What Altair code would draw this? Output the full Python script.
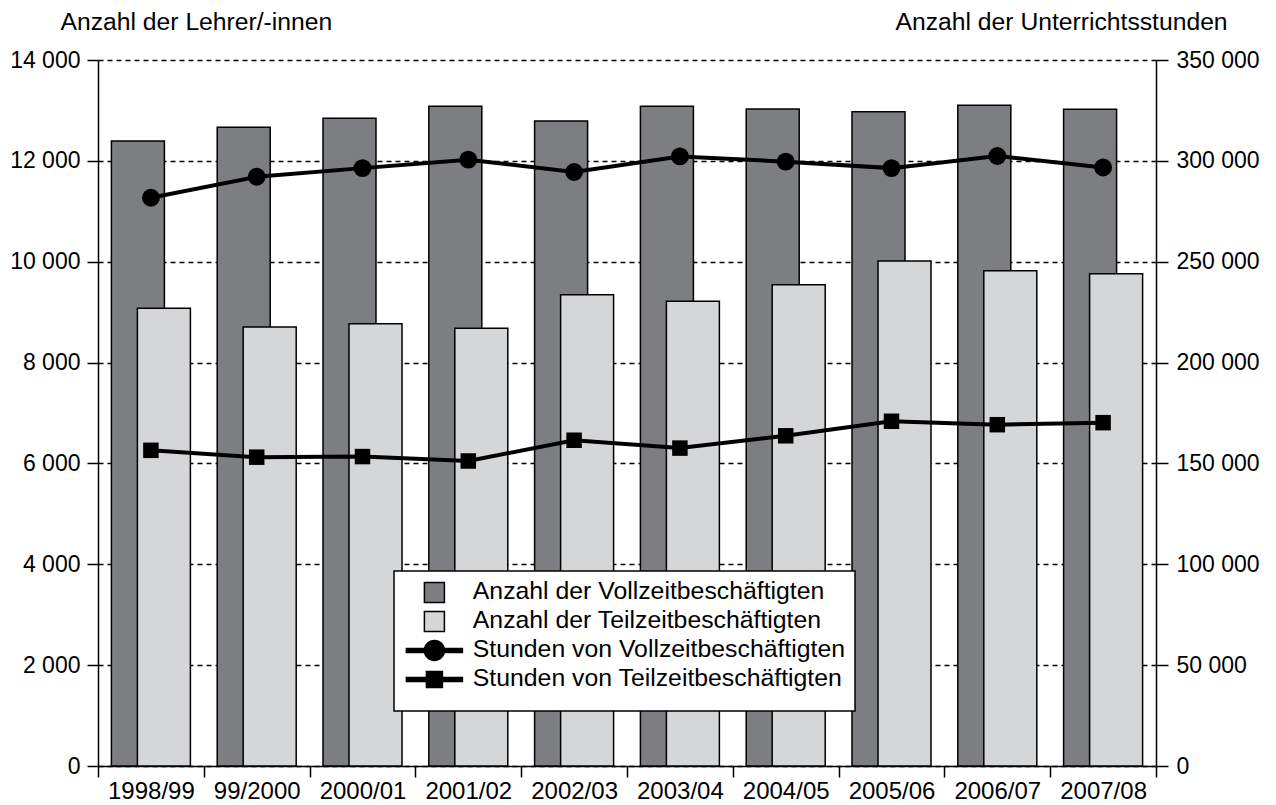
import altair as alt
import pandas as pd

years = ["1998/99", "99/2000", "2000/01", "2001/02", "2002/03",
         "2003/04", "2004/05", "2005/06", "2006/07", "2007/08"]
voll_count = [12394, 12667, 12846, 13084, 12790, 13084, 13030, 12975, 13104, 13022]
teil_count = [9078, 8703, 8771, 8682, 9344, 9215, 9542, 10014, 9822, 9760]
voll_hours = [281700, 292100, 296400, 300600, 294500, 302200, 299600, 296400, 302400, 296700]
teil_hours = [156500, 153100, 153400, 151200, 161500, 157600, 163700, 170900, 169200, 170200]
series = ["Anzahl der Vollzeitbeschäftigten", "Anzahl der Teilzeitbeschäftigten",
          "Stunden von Vollzeitbeschäftigten", "Stunden von Teilzeitbeschäftigten"]
left_ticks = [0, 2000, 4000, 6000, 8000, 10000, 12000, 14000]
right_ticks = [0, 50000, 100000, 150000, 200000, 250000, 300000, 350000]

DARK = "#7d7e82"
LIGHT = "#d5d6d8"
FONT = "Liberation Sans"

df = pd.DataFrame({"year": years, "vc": voll_count, "tc": teil_count,
                   "vh": voll_hours, "th": teil_hours})
df_leg = pd.DataFrame({"series": series, "year": [years[0]] * 4, "v": [-5000] * 4})

fmt = "replace(format(datum.value, ','), ',', ' ')"

x_enc = alt.X("year:N", sort=years,
              scale=alt.Scale(domain=years, paddingInner=0, paddingOuter=0),
              axis=alt.Axis(title=None, tickBand="extent", labelAngle=0, labelFontSize=24,
                            tickSize=11, labelPadding=2, grid=False))

left_scale = alt.Scale(domain=[0, 14000], nice=False)
left_axis = alt.Axis(orient="left", values=left_ticks, labelExpr=fmt,
                     title="Anzahl der Lehrer/-innen", titleAngle=0, titleAlign="left",
                     titleBaseline="alphabetic", titleX=-38, titleY=-31,
                     titleFontSize=24.7, titleFontWeight="normal",
                     grid=True, gridColor="black", gridDash=[5, 4], gridWidth=1.5,
                     tickSize=11, labelPadding=7, labelFontSize=23)
right_scale = alt.Scale(domain=[0, 350000], nice=False)
right_axis = alt.Axis(orient="right", values=right_ticks, labelExpr=fmt,
                      title="Anzahl der Unterrichtsstunden", titleAngle=0, titleAlign="left",
                      titleBaseline="alphabetic", titleX=-261, titleY=-31,
                      titleFontSize=24.7, titleFontWeight="normal",
                      grid=False, tickSize=12, labelPadding=8, labelFontSize=23)

SQ = "M-1,-1L1,-1L1,1L-1,1Z"
LINE_CIRCLE = ("M-2.8,-0.2L2.8,-0.2L2.8,0.2L-2.8,0.2Z"
               "M1,0A1,1 0 1,1 -1,0A1,1 0 1,1 1,0Z")
LINE_SQUARE = ("M-2.8,-0.2L2.8,-0.2L2.8,0.2L-2.8,0.2Z"
               "M-0.8,-0.8L0.8,-0.8L0.8,0.8L-0.8,0.8Z")

leg = alt.Legend(title=" ", titleOrient="bottom", titleFontSize=8, titlePadding=3,
                 orient="none", legendX=296, legendY=511,
                 fillColor="white", strokeColor="black", padding=9,
                 symbolSize=400, symbolOffset=19, labelOffset=26,
                 symbolStrokeColor="black", symbolStrokeWidth=1.5,
                 labelFont=FONT, labelFontSize=24.8, labelColor="black",
                 labelLimit=600, rowPadding=2)

dark = alt.Chart(df).mark_bar(width=53, xOffset=-13, fill=DARK, stroke="black",
                              strokeWidth=1.5).encode(
    x=x_enc, y=alt.Y("vc:Q", scale=left_scale, axis=left_axis))
light = alt.Chart(df).mark_bar(width=53, xOffset=13, fill=LIGHT, stroke="black",
                               strokeWidth=1.5).encode(
    x=x_enc, y=alt.Y("tc:Q", scale=left_scale, axis=left_axis))
dummy = alt.Chart(df_leg).mark_point(filled=True, clip=True, size=400,
                                     strokeWidth=1.5, opacity=1).encode(
    x=x_enc, y=alt.Y("v:Q", scale=left_scale, axis=left_axis),
    fill=alt.Fill("series:N", scale=alt.Scale(domain=series, range=[DARK, LIGHT, "black", "black"]),
                  legend=leg),
    stroke=alt.Stroke("series:N", scale=alt.Scale(domain=series, range=["black"] * 4),
                      legend=leg),
    shape=alt.Shape("series:N", scale=alt.Scale(domain=series, range=[SQ, SQ, LINE_CIRCLE, LINE_SQUARE]),
                    legend=leg))
bars = alt.layer(dark, light, dummy)

yv = alt.Y("vh:Q", scale=right_scale, axis=right_axis)
yt = alt.Y("th:Q", scale=right_scale, axis=right_axis)
line_v = alt.Chart(df).mark_line(color="black", strokeWidth=4).encode(x=x_enc, y=yv)
pt_v = alt.Chart(df).mark_point(filled=True, shape="circle", size=320, color="black",
                                opacity=1).encode(x=x_enc, y=yv)
line_t = alt.Chart(df).mark_line(color="black", strokeWidth=4).encode(x=x_enc, y=yt)
pt_t = alt.Chart(df).mark_point(filled=True, shape="square", size=240, color="black",
                                opacity=1).encode(x=x_enc, y=yt)
lines = alt.layer(line_v, pt_v, line_t, pt_t)

chart = alt.layer(bars, lines).resolve_scale(y="independent").properties(
    width=1058, height=706,
    autosize=alt.AutoSizeParams(type="none"),
    padding={"left": 90, "top": 52, "right": 110, "bottom": 45},
).configure_view(stroke=None).configure_axis(
    labelFont=FONT, titleFont=FONT, labelColor="black", titleColor="black",
    domainColor="black", domainWidth=1.5, tickColor="black", tickWidth=1.5,
).configure_legend(strokeWidth=1.5)

chart.save("out.html", embed_options={"renderer": "svg", "actions": False})
